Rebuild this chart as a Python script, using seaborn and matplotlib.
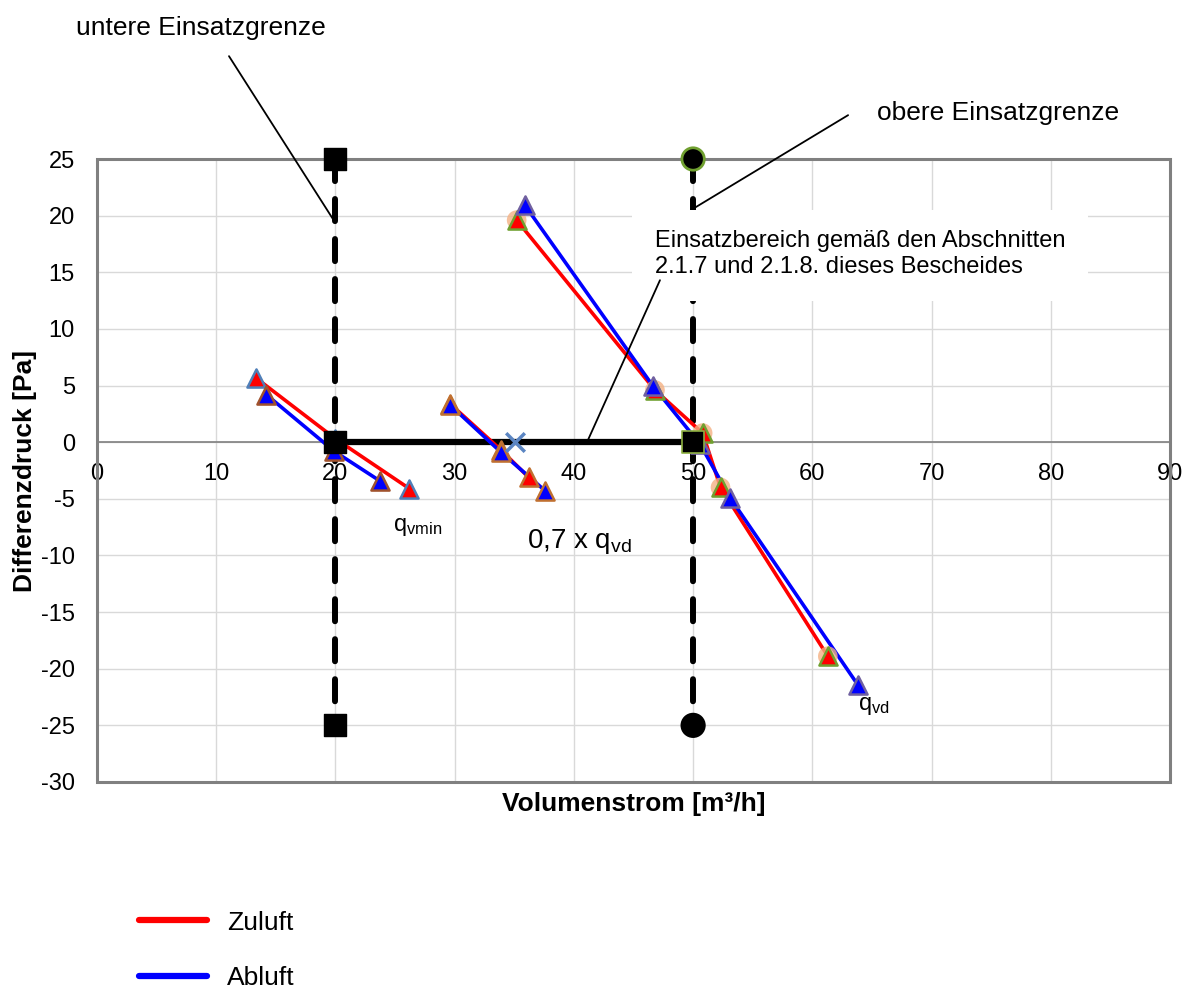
import numpy as np
import pandas as pd
import matplotlib
matplotlib.use("Agg")
import matplotlib.pyplot as plt
import seaborn as sns
from matplotlib.patches import Rectangle
from matplotlib.lines import Line2D

# ---------------- data ----------------
grp1_zu_x = [13.3, 20.0, 26.2]
grp1_zu_y = [5.7, 0.3, -4.1]
grp1_ab_x = [14.2, 19.9, 23.7]
grp1_ab_y = [4.2, -0.8, -3.4]

grp2_zu_x = [29.6, 33.9, 36.2]
grp2_zu_y = [3.4, -0.7, -3.1]
grp2_ab_x = [29.6, 33.9, 37.6]
grp2_ab_y = [3.3, -0.9, -4.3]

grp3_zu_x = [35.2, 46.8, 50.8, 52.3, 61.3]
grp3_zu_y = [19.6, 4.6, 0.8, -4.0, -18.9]
grp3_ab_x = [35.9, 46.6, 50.6, 53.1, 63.8]
grp3_ab_y = [20.9, 5.0, -0.2, -4.9, -21.4]

lower_limit_x = [20, 20, 20]
lower_limit_y = [25, 0, -25]
upper_limit_x = [50, 50, 50]
upper_limit_y = [25, 0, -25]
range_x = [20, 50]
range_y = [0, 0]
point_07_x = [35.1]
point_07_y = [0.0]

x_ticks = [0, 10, 20, 30, 40, 50, 60, 70, 80, 90]
y_ticks = [-30, -25, -20, -15, -10, -5, 0, 5, 10, 15, 20, 25]

rows = []
for g, (zx, zy, bx, by) in enumerate([
        (grp1_zu_x, grp1_zu_y, grp1_ab_x, grp1_ab_y),
        (grp2_zu_x, grp2_zu_y, grp2_ab_x, grp2_ab_y),
        (grp3_zu_x, grp3_zu_y, grp3_ab_x, grp3_ab_y)]):
    for x, y in zip(zx, zy):
        rows.append(dict(x=x, y=y, medium="Zuluft", group=g))
    for x, y in zip(bx, by):
        rows.append(dict(x=x, y=y, medium="Abluft", group=g))
df = pd.DataFrame(rows)

# ---------------- style ----------------
sns.set_theme(style="white")
plt.rcParams["font.family"] = ["Liberation Sans", "DejaVu Sans"]
plt.rcParams["axes.unicode_minus"] = False
plt.rcParams["mathtext.fontset"] = "custom"
plt.rcParams["mathtext.rm"] = "Liberation Sans"
plt.rcParams["mathtext.it"] = "Liberation Sans"
plt.rcParams["text.color"] = "black"

FS = 17
FL = 19
fig = plt.figure(figsize=(11.89, 9.92), dpi=100)
ax = fig.add_axes([97 / 1189, 1 - 782 / 992, (1170 - 97) / 1189, (782 - 159) / 992])

# limit lines
dash = (0, (3.7, 3.0))
ax.plot(lower_limit_x, lower_limit_y, color="black", lw=4.3, ls=dash,
        dash_capstyle="round", zorder=3)
ax.plot(upper_limit_x, upper_limit_y, color="black", lw=4.3, ls=dash,
        dash_capstyle="round", zorder=3)

# white box behind the range text
ax.add_patch(Rectangle((44.9, 12.5), 38.2, 8.0, facecolor="white", edgecolor="none", zorder=3.5))

ax.plot(range_x, range_y, color="black", lw=4.5, solid_capstyle="butt", zorder=4)

# series lines
sns.lineplot(data=df, x="x", y="y", hue="medium", units="group", estimator=None,
             sort=False, palette={"Zuluft": "#ff0000", "Abluft": "#0000ff"},
             lw=2.6, ax=ax, legend=False, zorder=5)

# peach halos (extra excel series) under upper red points
ax.scatter(grp3_zu_x, grp3_zu_y, s=200, marker="o", color="#f4b183", alpha=0.8,
           edgecolors="none", zorder=5.5)

edge_map = {
    (0, "Zuluft"): "#4f7fb8", (0, "Abluft"): "#a0522d",
    (1, "Zuluft"): "#c07030", (1, "Abluft"): "#c07030",
    (2, "Zuluft"): "#70a030", (2, "Abluft"): "#7060a0",
}
for (g, m), ec in edge_map.items():
    sub = df[(df.group == g) & (df.medium == m)]
    sns.scatterplot(data=sub, x="x", y="y", marker="^", s=170,
                    color="#ff0000" if m == "Zuluft" else "#0000ff",
                    edgecolor=ec, linewidth=1.8, ax=ax, legend=False, zorder=6)

# limit markers
ax.scatter(lower_limit_x, lower_limit_y, marker="s", s=260, color="black", zorder=7, clip_on=False)
ax.scatter([upper_limit_x[1]], [upper_limit_y[1]], marker="s", s=230, color="black",
           edgecolors="#8db040", linewidths=1.2, zorder=7, clip_on=False)
ax.scatter([upper_limit_x[0], upper_limit_x[2]], [upper_limit_y[0], upper_limit_y[2]],
           marker="o", s=260, color="black", edgecolors=["#70a030", "black"],
           linewidths=2, zorder=7, clip_on=False)
ax.scatter(point_07_x, point_07_y, marker="x", s=180, color="#5b85c2", linewidths=2.5, zorder=7)

# axes formatting
ax.set_xlim(0, 90)
ax.set_ylim(-30, 25)
ax.set_xticks(x_ticks)
ax.set_yticks(y_ticks)
ax.set_xticklabels([str(t) for t in x_ticks])
ax.set_yticklabels([str(t) for t in y_ticks])
ax.tick_params(axis="both", labelsize=FS, labelcolor="black")
ax.grid(True, color="#d9d9d9", lw=1.0, zorder=0)
ax.set_axisbelow(True)

for s in ["top", "right"]:
    ax.spines[s].set_visible(False)
ax.spines["bottom"].set_position(("data", 0))
ax.spines["bottom"].set_color("#808080")
ax.spines["bottom"].set_linewidth(1.2)
ax.spines["left"].set_color("#808080")
ax.spines["left"].set_linewidth(2.0)
ax.add_patch(Rectangle((0, 0), 1, 1, transform=ax.transAxes, fill=False,
                       edgecolor="#808080", lw=2.2, clip_on=False, zorder=1))
ax.tick_params(axis="x", direction="out", length=5, width=1, color="#808080", pad=10)
ax.tick_params(axis="y", direction="out", length=5, width=1, color="#808080", pad=11)

ax.set_xlabel("Volumenstrom [m³/h]", fontsize=FL, fontweight="bold", color="black")
ax.set_ylabel("Differenzdruck [Pa]", fontsize=FL, fontweight="bold", color="black")
ax.xaxis.set_label_coords(0.5, -0.016)
ax.yaxis.set_label_coords(-0.056, 0.5)

# annotations
line_kw = dict(arrowstyle="-", color="black", lw=1.3, shrinkA=0, shrinkB=0)
ax.annotate("", xy=(19.96, 19.42), xytext=(11.07, 34.08), arrowprops=line_kw,
            annotation_clip=False, zorder=8)
ax.text(8.72, 36.55, "untere Einsatzgrenze", ha="center", va="center", fontsize=FL, clip_on=False)
ax.annotate("", xy=(50.08, 20.66), xytext=(63.0, 28.87), arrowprops=line_kw,
            annotation_clip=False, zorder=8)
ax.text(75.57, 29.05, "obere Einsatzgrenze", ha="center", va="center", fontsize=FL, clip_on=False)
ax.annotate("", xy=(41.1, 0.0), xytext=(47.22, 14.3), arrowprops=line_kw,
            annotation_clip=False, zorder=8)
ax.text(46.8, 16.6, "Einsatzbereich gemäß den Abschnitten\n2.1.7 und 2.1.8. dieses Bescheides",
        ha="left", va="center", fontsize=FS, linespacing=1.25, zorder=9)
ax.text(24.8, -7.5, r"q$_{\mathrm{vmin}}$", ha="left", va="center", fontsize=FS, zorder=9)
ax.text(36.07, -8.74, r"0,7 x q$_{\mathrm{vd}}$", ha="left", va="center", fontsize=20, zorder=9)
ax.text(63.83, -23.3, r"q$_{\mathrm{vd}}$", ha="left", va="center", fontsize=FS, zorder=9)

# legend
handles = [Line2D([], [], color="#ff0000", lw=4.5), Line2D([], [], color="#0000ff", lw=4.5)]
fig.legend(handles, ["Zuluft", "Abluft"], loc="upper left",
           bbox_to_anchor=(0.097, 0.106), frameon=False, fontsize=FL,
           handlelength=2.58, handletextpad=0.76, labelspacing=1.2)

fig.savefig("out.png", dpi=100)
